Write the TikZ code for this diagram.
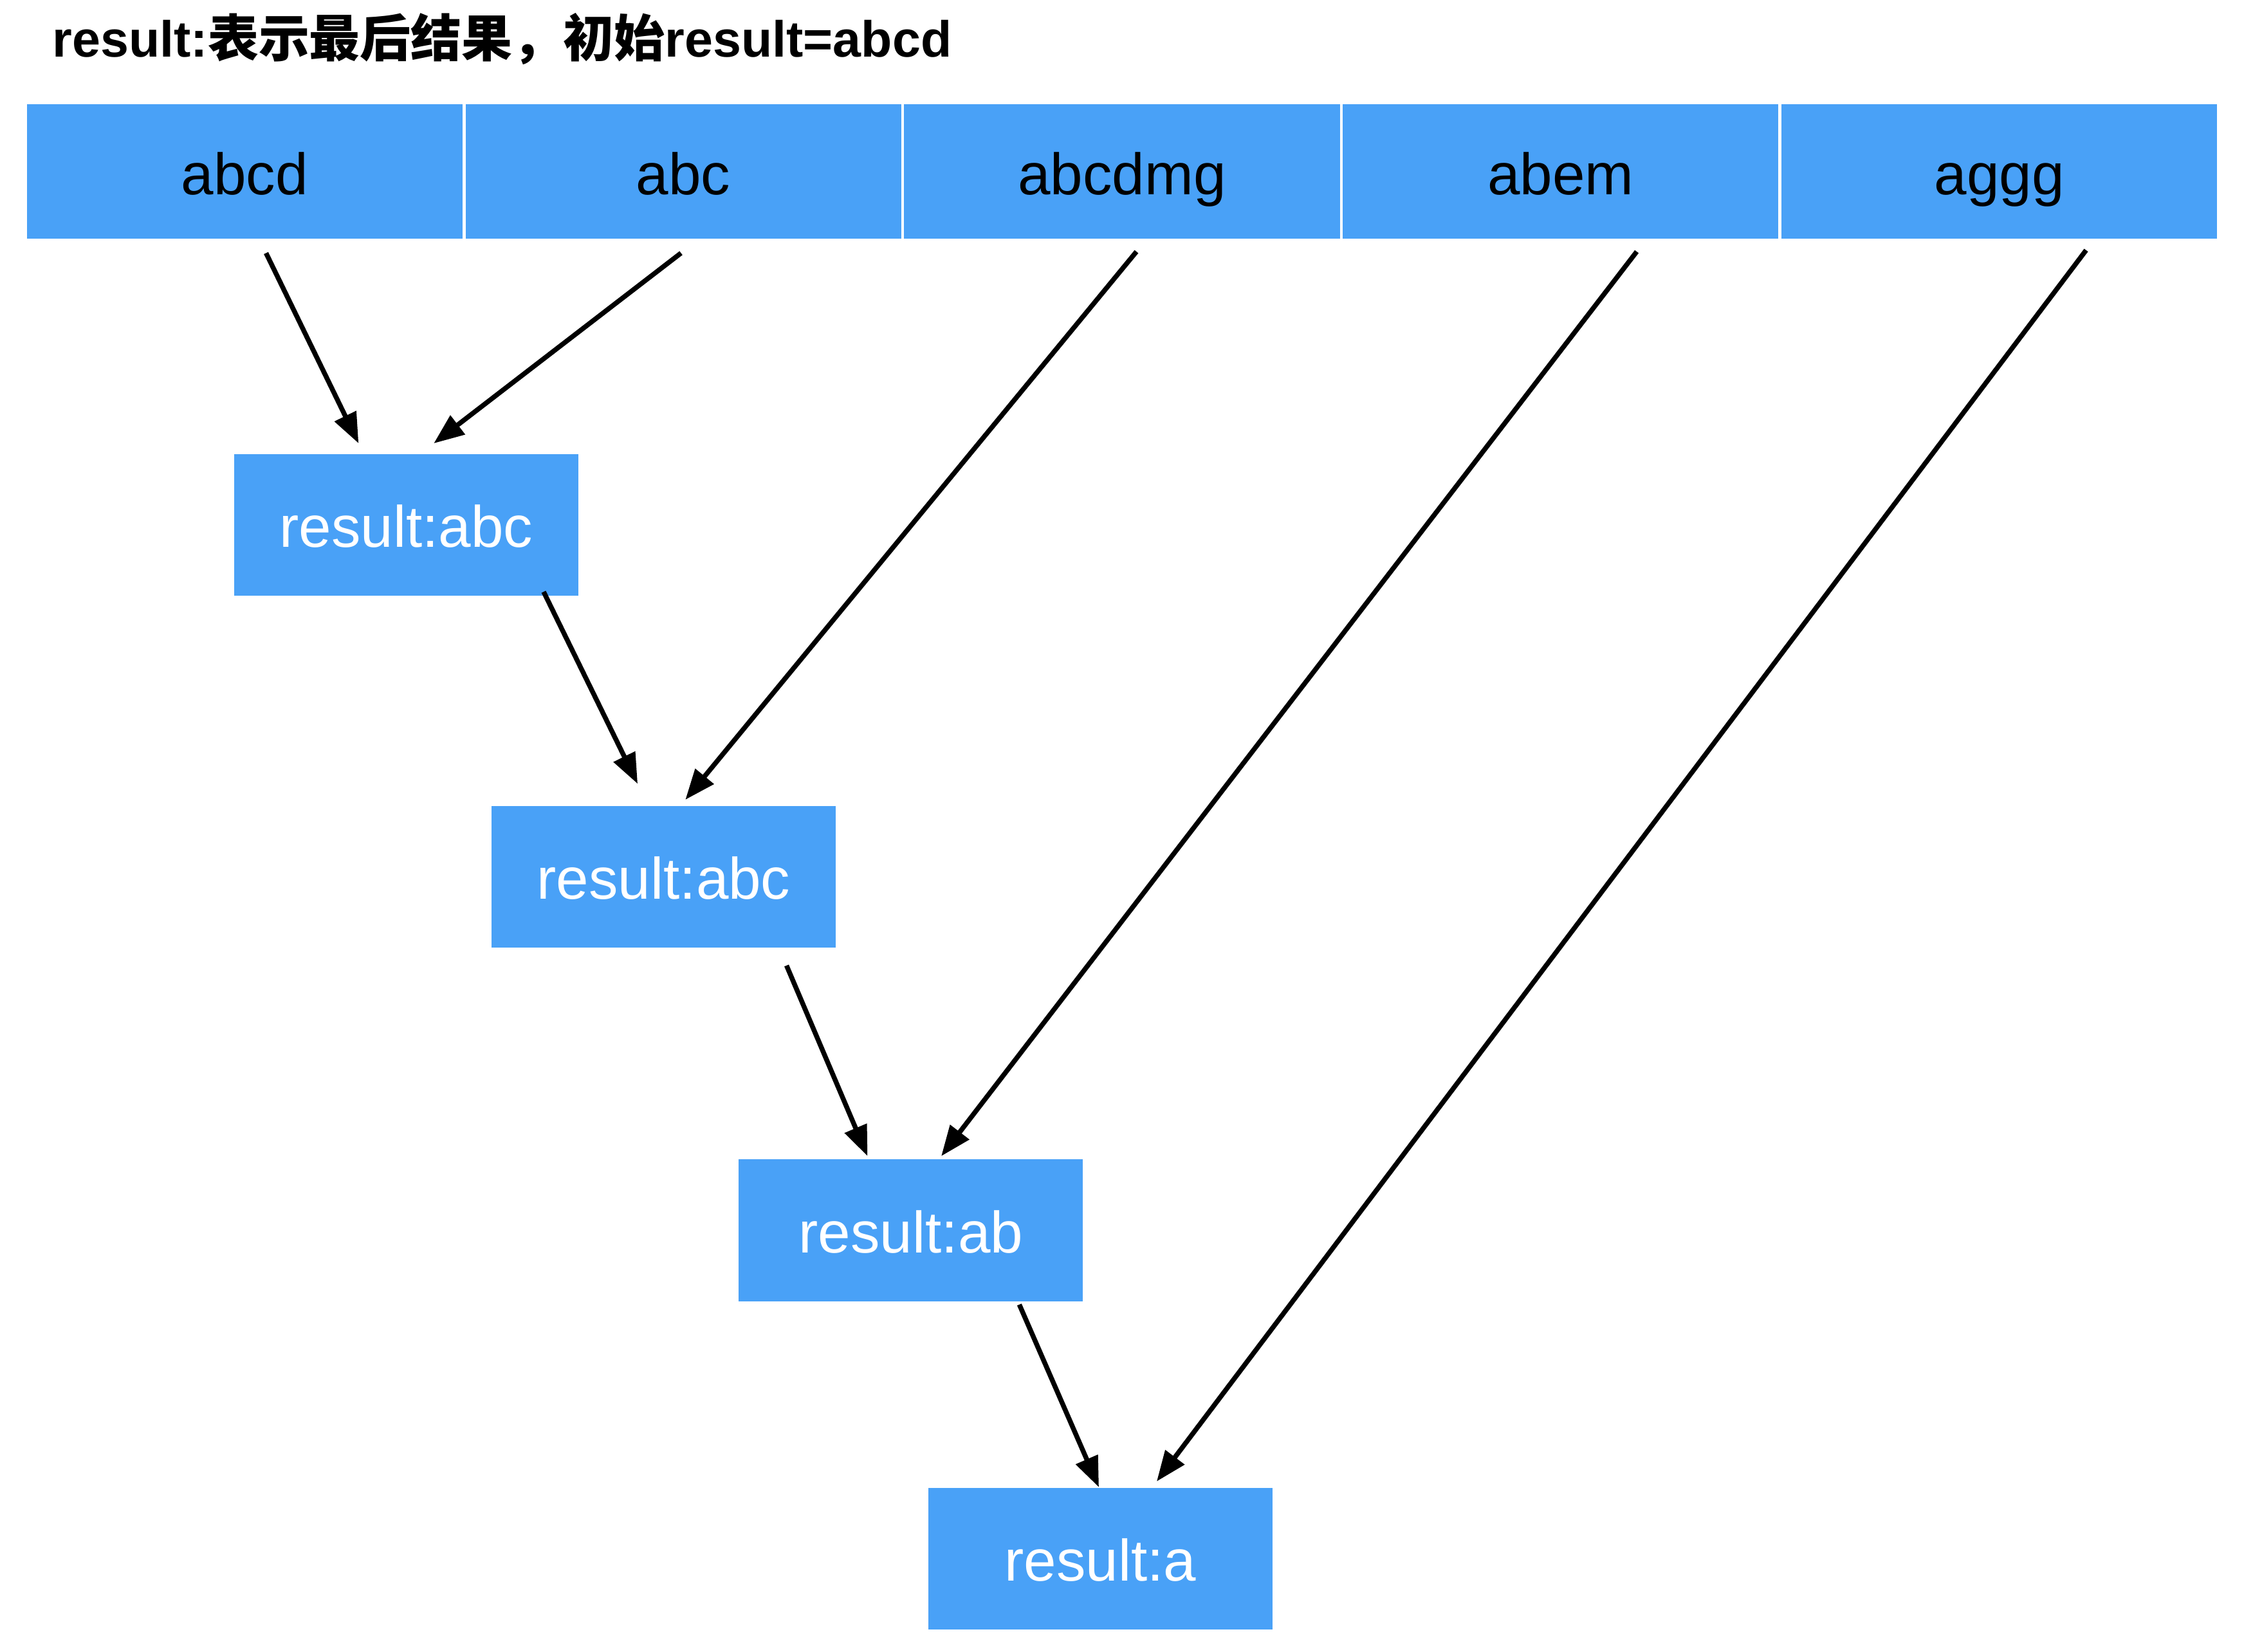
\documentclass[tikz,border=0pt]{standalone}
\usepackage{fontspec}
\setmainfont{Liberation Sans}
\newfontfamily\cjk{Noto Sans CJK SC}
\usepackage{xcolor}
\usetikzlibrary{arrows.meta}
\definecolor{cellblue}{RGB}{73,161,247}

\begin{document}
\begin{tikzpicture}[x=0.02cm,y=-0.02cm,
		cell/.style={fill=cellblue,draw=white,line width=1.2pt,minimum width=6.07cm,minimum height=1.9cm,inner sep=0pt,text height=18.5pt,text depth=0pt,font=\fontsize{23}{27}\selectfont},
		res/.style={fill=cellblue,minimum width=4.76cm,minimum height=1.96cm,inner sep=0pt,text height=17.5pt,text depth=0pt,text=white,font=\fontsize{23}{27}\selectfont},
		link/.style={-{Triangle[length=0.42cm,width=0.32cm]},line width=1.9pt}]
		\useasboundingbox (0,0) rectangle (1552,1142.6);
		% title
		\node[anchor=west,inner sep=0pt,font=\fontsize{20}{24}\selectfont\bfseries] (title) at (36,27)
			{result:{\cjk\bfseries 表示最后结果，初始}result=abcd};
		% input strings
		\node[cell] (s1) at (169.2,118.5) {abcd};
		\node[cell] (s2) at (472.6,118.5) {abc};
		\node[cell] (s3) at (776,118.5) {abcdmg};
		\node[cell] (s4) at (1079.4,118.5) {abem};
		\node[cell] (s5) at (1382.8,118.5) {aggg};
		% intermediate results
		\node[res] (r1) at (281,363) {result:abc};
		\node[res] (r2) at (459,606.5) {result:abc};
		\node[res] (r3) at (630,851) {result:ab};
		\node[res] (r4) at (761,1078) {result:a};

		\draw[link] ([xshift=0.296cm,yshift=-0.16cm]s1.south) -- ([xshift=-0.66cm,yshift=0.14cm]r1.north);
		\draw[link] ([xshift=-0.032cm,yshift=-0.16cm]s2.south) -- ([xshift=0.38cm,yshift=0.14cm]r1.north);
		\draw[link] ([xshift=1.9cm,yshift=0.06cm]r1.south) -- ([xshift=-0.36cm,yshift=0.3cm]r2.north);
		\draw[link] ([xshift=0.2cm,yshift=-0.14cm]s3.south) -- ([xshift=0.3cm,yshift=0.08cm]r2.north);
		\draw[link] ([xshift=1.7cm,yshift=-0.24cm]r2.south) -- ([xshift=-0.6cm,yshift=0.04cm]r3.north);
		\draw[link] ([xshift=1.052cm,yshift=-0.14cm]s4.south) -- ([xshift=0.42cm,yshift=0.04cm]r3.north);
		\draw[link] ([xshift=1.5cm,yshift=-0.04cm]r3.south) -- ([xshift=-0.02cm]r4.north);
		\draw[link] ([xshift=1.2cm,yshift=-0.12cm]s5.south) -- ([xshift=0.78cm,yshift=0.08cm]r4.north);
	\end{tikzpicture}
\end{document}
